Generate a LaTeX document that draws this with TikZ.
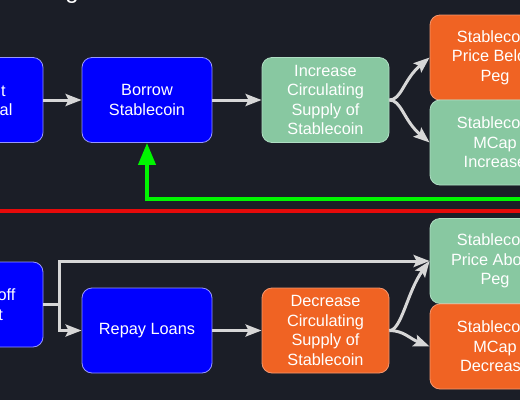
\documentclass[tikz,border=0pt]{standalone}
\usepackage{fontspec}
\setmainfont{Liberation Sans}
\usetikzlibrary{arrows.meta}
\definecolor{bg}{RGB}{27,30,39}
\definecolor{bluefill}{RGB}{0,0,255}
\definecolor{blueline}{RGB}{150,150,255}
\definecolor{greenfill}{RGB}{136,200,161}
\definecolor{greenline}{RGB}{175,222,195}
\definecolor{orangefill}{RGB}{240,99,35}
\definecolor{orangeline}{RGB}{245,150,110}
\definecolor{arrowgray}{RGB}{215,215,215}
\definecolor{fbgreen}{RGB}{0,245,0}
\definecolor{divred}{RGB}{230,10,10}
\begin{document}
\begin{tikzpicture}[x=1pt,y=-1pt,
  box/.style={rounded corners=10pt, minimum width=130pt, minimum height=85pt,
    inner sep=0pt, text=white, align=center,
    font=\fontsize{16.3}{19.5}\selectfont, line width=0.8pt},
  bluebox/.style={box, fill=bluefill, draw=blueline},
  greenbox/.style={box, fill=greenfill, draw=greenline},
  orangebox/.style={box, fill=orangefill, draw=orangeline},
  plainline/.style={draw=arrowgray, line width=3pt},
  arr/.style={plainline, -{Stealth[length=16pt,width=12pt,inset=3pt]}},
  fbline/.style={draw=fbgreen, line width=4pt, -{Triangle[length=22pt,width=17pt]}},
  divline/.style={draw=divred, line width=4pt},
  titletext/.style={text=white, inner sep=0pt, font=\fontsize{24}{28}\selectfont}
]
\fill[bg] (0,0) rectangle (520,400);
\useasboundingbox (0,0) rectangle (520,400);
\clip (0,0) rectangle (520,400);

% title fragment
\node[titletext, anchor=base east] (title) at (79,-2) {Borrowing};

% top row
\node[bluebox] (dep) at (-22,100) {Deposit\\Collateral};
\node[bluebox] (borrow) at (147,100) {Borrow\\Stablecoin};
\node[greenbox, minimum width=127pt] (inc) at (325.5,100) {Increase\\Circulating\\Supply of\\Stablecoin};
\node[orangebox] (below) at (495,57.5) {Stablecoin\\Price Below\\Peg};
\node[greenbox] (mcapinc) at (495,142.5) {Stablecoin\\MCap\\Increase};

% bottom row
\node[bluebox] (sell) at (-22,304.5) {Big sell off\\Market};
\node[bluebox] (repay) at (147,330.5) {Repay Loans};
\node[orangebox, minimum width=127pt] (dec) at (325.5,330.5) {Decrease\\Circulating\\Supply of\\Stablecoin};
\node[greenbox] (above) at (495,261) {Stablecoin\\Price Above\\Peg};
\node[orangebox] (mcapdec) at (495,346.5) {Stablecoin\\MCap\\Decrease};

% top connectors
\draw[arr] (dep.east) -- (borrow.west);
\draw[arr] (borrow.east) -- (inc.west);
\draw[arr] (inc.east) .. controls +(12,0) and +(-26,22) .. (below.west);
\draw[arr] (inc.east) .. controls +(12,0) and +(-26,-22) .. (mcapinc.west);

% feedback
\coordinate (fbstart) at (525,199);
\draw[fbline] (fbstart) -| (borrow.south);

% divider
\coordinate (divL) at (-5,211);
\coordinate (divR) at (525,211);
\draw[divline] (divL) -- (divR);

% bottom connectors
\coordinate (j) at (59,304.5);
\draw[plainline] (sell.east) -- (j);
\draw[arr] (j) |- (repay.west);
\draw[arr] (j) |- (above.west);
\draw[arr] (repay.east) -- (dec.west);
\draw[arr] (dec.east) .. controls +(12,0) and +(-22,30) .. (above.west);
\draw[arr] (dec.east) .. controls +(14,0) and +(-20,-8) .. (mcapdec.west);
\end{tikzpicture}
\end{document}
